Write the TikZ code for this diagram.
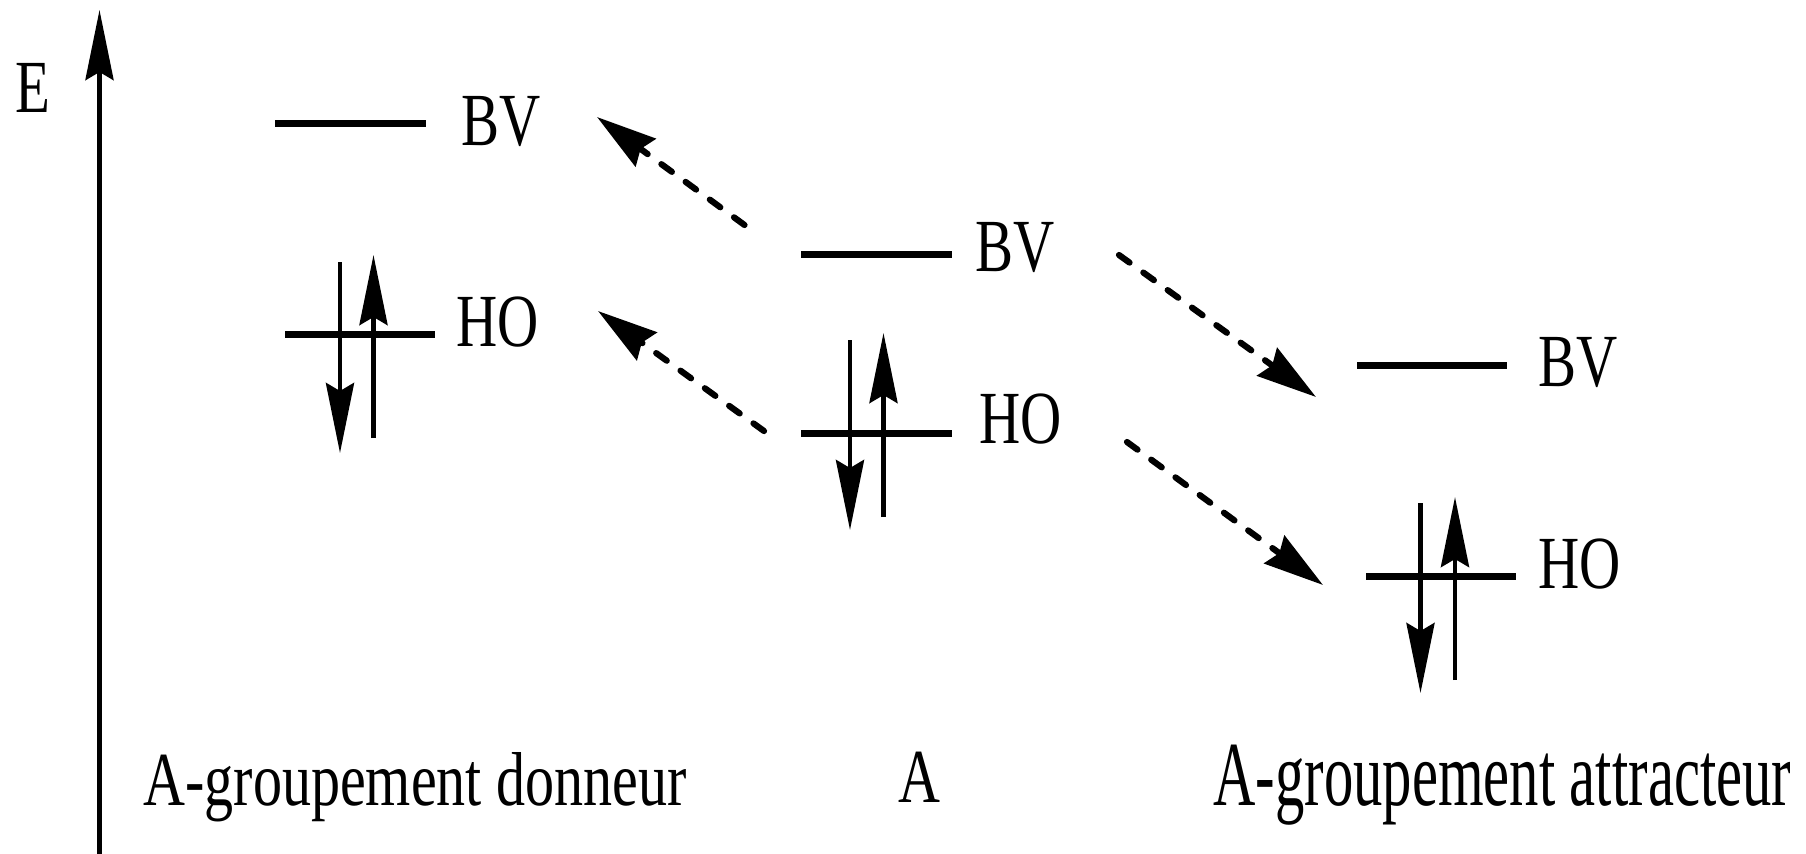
\documentclass[tikz,border=0pt]{standalone}
\usepackage{fontspec}
\setmainfont{Liberation Serif}
\newfontfamily\narrowserif{Liberation Serif}[FakeStretch=0.76]
\newfontfamily\narrowerserif{Liberation Serif}[FakeStretch=0.64]
\usetikzlibrary{arrows.meta}
\tikzset{
  orbline/.style={line width=3.5pt},
  spinarrow/.style={line width=2.4pt,
                    -{Stealth[length=35pt, width=14pt, inset=4pt]}},
  enaxis/.style={line width=2.4pt,
                 -{Stealth[length=35pt, width=14pt, inset=4pt]}},
  shiftarrow/.style={line width=3.1pt, line cap=round,
                     dash pattern=on 6.5pt off 8.5pt,
                     -{Stealth[length=30pt, width=17pt, inset=3pt]}},
  orblabel/.style={anchor=base west, inner sep=0pt,
                   font=\narrowserif\fontsize{37.5}{40}\selectfont},
  mollabel/.style={anchor=base west, inner sep=0pt,
                   font=\narrowserif\fontsize{38.2}{42}\selectfont},
}

\begin{document}
\begin{tikzpicture}[x=0.5pt, y=-0.5pt]
  \useasboundingbox (0,0) rectangle (1806,853);

  % --- Energy axis ---
  \coordinate (axbot) at (99.5,860);
  \coordinate (axtop) at (99.5,10);
  \draw[enaxis] (axbot) -- (axtop);
  \node[orblabel] (E) at (15,112) {E};

  % --- A-groupement donneur ---
  \coordinate (dBV1) at (275,123);  \coordinate (dBV2) at (426,123);
  \coordinate (dHO1) at (285,334);  \coordinate (dHO2) at (435,334);
  \draw[orbline] (dBV1) -- (dBV2);
  \draw[orbline] (dHO1) -- (dHO2);
  \coordinate (dDn1) at (340,262);   \coordinate (dDn2) at (340,453);
  \coordinate (dUp1) at (373.5,438); \coordinate (dUp2) at (373.5,255);
  \draw[spinarrow] (dDn1) -- (dDn2);
  \draw[spinarrow] (dUp1) -- (dUp2);
  \node[orblabel] (dBV) at (461,145) {BV};
  \node[orblabel] (dHO) at (456,346) {HO};

  % --- A ---
  \coordinate (aBV1) at (801,254);  \coordinate (aBV2) at (952,254);
  \coordinate (aHO1) at (801,433);  \coordinate (aHO2) at (952,433);
  \draw[orbline] (aBV1) -- (aBV2);
  \draw[orbline] (aHO1) -- (aHO2);
  \coordinate (aDn1) at (850,340);   \coordinate (aDn2) at (850,530);
  \coordinate (aUp1) at (883.5,517); \coordinate (aUp2) at (883.5,333);
  \draw[spinarrow] (aDn1) -- (aDn2);
  \draw[spinarrow] (aUp1) -- (aUp2);
  \node[orblabel] (aBV) at (975,271) {BV};
  \node[orblabel] (aHO) at (979,443) {HO};

  % --- A-groupement attracteur ---
  \coordinate (tBV1) at (1357,365); \coordinate (tBV2) at (1507,365);
  \coordinate (tHO1) at (1366,576); \coordinate (tHO2) at (1516,576);
  \draw[orbline] (tBV1) -- (tBV2);
  \draw[orbline] (tHO1) -- (tHO2);
  \coordinate (tDn1) at (1420.5,503); \coordinate (tDn2) at (1420.5,693);
  \coordinate (tUp1) at (1455,680);   \coordinate (tUp2) at (1455,497);
  \draw[spinarrow] (tDn1) -- (tDn2);
  \draw[spinarrow] (tUp1) -- (tUp2);
  \node[orblabel] (tBV) at (1538,386) {BV};
  \node[orblabel] (tHO) at (1538,588) {HO};

  % --- Shifts of the levels ---
  \coordinate (sBVd1) at (744.5,225); \coordinate (sBVd2) at (597,117);
  \coordinate (sHOd1) at (764,431);   \coordinate (sHOd2) at (598,311);
  \coordinate (sBVt1) at (1119,255);  \coordinate (sBVt2) at (1316,397);
  \coordinate (sHOt1) at (1127,442);  \coordinate (sHOt2) at (1323,585);
  \draw[shiftarrow] (sBVd1) -- (sBVd2);
  \draw[shiftarrow] (sHOd1) -- (sHOd2);
  \draw[shiftarrow] (sBVt1) -- (sBVt2);
  \draw[shiftarrow] (sHOt1) -- (sHOt2);

  % --- Names ---
  \node[mollabel] (donneur) at (143,805) {A-groupement donneur};
  \node[mollabel] (molA) at (898,802) {A};
  \node[mollabel, font=\narrowerserif\fontsize{45.8}{50}\selectfont]
    (attracteur) at (1213,805) {A-groupement attracteur};
\end{tikzpicture}
\end{document}
